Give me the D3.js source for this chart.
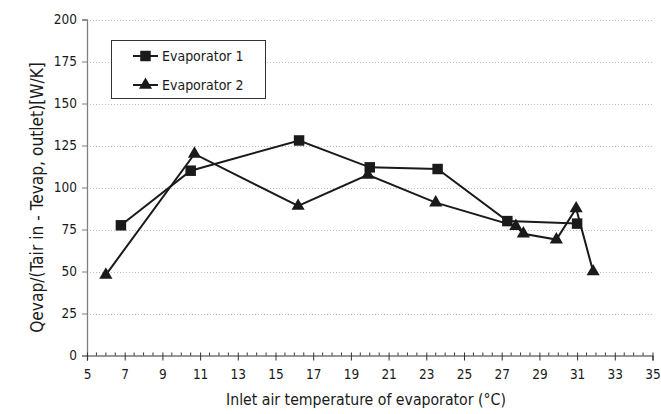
<!DOCTYPE html>
<html>
<head>
<meta charset="utf-8">
<script src="https://cdn.jsdelivr.net/npm/d3@7/dist/d3.min.js"></script>
<style>
  html, body { margin: 0; padding: 0; background: #fff; }
  svg { display: block; }
  text { font-family: "DejaVu Sans Condensed", "DejaVu Sans", sans-serif; fill: #1a1a1a; }
</style>
</head>
<body>
<svg id="chart" width="661" height="414"></svg>
<script>
// Evaporator performance vs. inlet air temperature
const evap1Temp = [6.8, 10.5, 16.25, 20.0, 23.6, 27.3, 31.0];
const evap1Value = [77.5, 110, 128, 112, 111, 80, 78.5];

const evap2Temp = [6.0, 10.7, 16.2, 19.9, 23.5, 27.75, 28.15, 29.9, 30.95, 31.85];
const evap2Value = [48, 120, 89, 107.5, 91, 77, 72.5, 69, 87.5, 50];

const seriesNames = ["Evaporator 1", "Evaporator 2"];
const xTickValues = [5, 7, 9, 11, 13, 15, 17, 19, 21, 23, 25, 27, 29, 31, 33, 35];
const yTickValues = [0, 25, 50, 75, 100, 125, 150, 175, 200];

const xTitle = "Inlet air temperature of evaporator (°C)";
const yTitle = "Qevap/(Tair in - Tevap, outlet)[W/K]";

const svg = d3.select("#chart");
const plotLeft = 87, plotRight = 652.5, plotTop = 19.5, plotBottom = 355.5;

const x = d3.scaleLinear().domain([5, 35]).range([plotLeft, plotRight]);
const y = d3.scaleLinear().domain([0, 200]).range([plotBottom, plotTop]);

// horizontal dotted gridlines
svg.append("g")
  .selectAll("line")
  .data(yTickValues.filter(v => v > 0))
  .join("line")
  .attr("x1", plotLeft).attr("x2", plotRight)
  .attr("y1", d => Math.round(y(d)) + 0.5).attr("y2", d => Math.round(y(d)) + 0.5)
  .attr("stroke", "#bdbdbd")
  .attr("stroke-width", 1)
  .attr("stroke-dasharray", "1,2");

// y axis
const yAxis = svg.append("g")
  .attr("transform", `translate(${plotLeft},0)`)
  .call(d3.axisLeft(y).tickValues(yTickValues).tickSize(5).tickPadding(5));
yAxis.select(".domain").attr("stroke", "#7f7f7f").attr("stroke-width", 1.3);
yAxis.selectAll(".tick line").attr("stroke", "#7f7f7f");
yAxis.selectAll(".tick text").attr("font-size", 13.5).attr("fill", "#1a1a1a")
  .style("font-family", "'DejaVu Sans Condensed', 'DejaVu Sans', sans-serif");

// x axis: minor ticks every 0.5 inside, major ticks every 2 crossing
const minorTicks = d3.range(5, 35.001, 0.5).filter(v => Math.abs((v - 5) % 2) > 1e-6);
svg.append("g")
  .selectAll("line")
  .data(minorTicks)
  .join("line")
  .attr("x1", d => x(d)).attr("x2", d => x(d))
  .attr("y1", plotBottom - 3).attr("y2", plotBottom)
  .attr("stroke", "#333")
  .attr("stroke-width", 1);

const xAxis = svg.append("g")
  .attr("transform", `translate(0,${plotBottom})`)
  .call(d3.axisBottom(x).tickValues(xTickValues).tickSize(5).tickPadding(9).tickFormat(d3.format("d")));
xAxis.select(".domain").attr("stroke", "#333").attr("stroke-width", 1.2);
xAxis.selectAll(".tick line").attr("stroke", "#333").attr("y1", -3);
xAxis.selectAll(".tick text").attr("font-size", 13.5).attr("fill", "#1a1a1a")
  .style("font-family", "'DejaVu Sans Condensed', 'DejaVu Sans', sans-serif");

// axis titles
svg.append("text")
  .attr("x", 366).attr("y", 405)
  .attr("text-anchor", "middle")
  .attr("font-size", 15.7)
  .text(xTitle);

svg.append("text")
  .attr("transform", `translate(43,197.5) rotate(-90)`)
  .attr("text-anchor", "middle")
  .attr("font-size", 17.2)
  .text(yTitle);

// series
const line = d3.line().x(d => x(d[0])).y(d => y(d[1]));
const s1 = evap1Temp.map((t, i) => [t, evap1Value[i]]);
const s2 = evap2Temp.map((t, i) => [t, evap2Value[i]]);

const lineColor = "#1a1a1a";
svg.append("path").datum(s1).attr("d", line)
  .attr("fill", "none").attr("stroke", lineColor).attr("stroke-width", 2);
svg.append("path").datum(s2).attr("d", line)
  .attr("fill", "none").attr("stroke", lineColor).attr("stroke-width", 2);

const squareSym = d3.symbol().type(d3.symbolSquare).size(110);
const triSym = d3.symbol().type(d3.symbolTriangle).size(75);

svg.append("g").selectAll("path")
  .data(s1).join("path")
  .attr("transform", d => `translate(${x(d[0])},${y(d[1])})`)
  .attr("d", squareSym)
  .attr("fill", lineColor);

svg.append("g").selectAll("path")
  .data(s2).join("path")
  .attr("transform", d => `translate(${x(d[0])},${y(d[1])})`)
  .attr("d", triSym)
  .attr("fill", lineColor);

// legend
const lg = svg.append("g");
lg.append("rect")
  .attr("x", 111.5).attr("y", 40.5).attr("width", 154).attr("height", 58)
  .attr("fill", "#fff").attr("stroke", "#333").attr("stroke-width", 1);

const legendRows = [
  { name: seriesNames[0], sym: squareSym, y: 56 },
  { name: seriesNames[1], sym: triSym, y: 85 }
];
legendRows.forEach(r => {
  lg.append("line")
    .attr("x1", 133).attr("x2", 158).attr("y1", r.y).attr("y2", r.y)
    .attr("stroke", lineColor).attr("stroke-width", 2);
  lg.append("path")
    .attr("transform", `translate(145.5,${r.y})`)
    .attr("d", r.sym)
    .attr("fill", lineColor);
  lg.append("text")
    .attr("x", 162).attr("y", r.y + 5)
    .attr("font-size", 14)
    .text(r.name);
});
</script>
</body>
</html>
